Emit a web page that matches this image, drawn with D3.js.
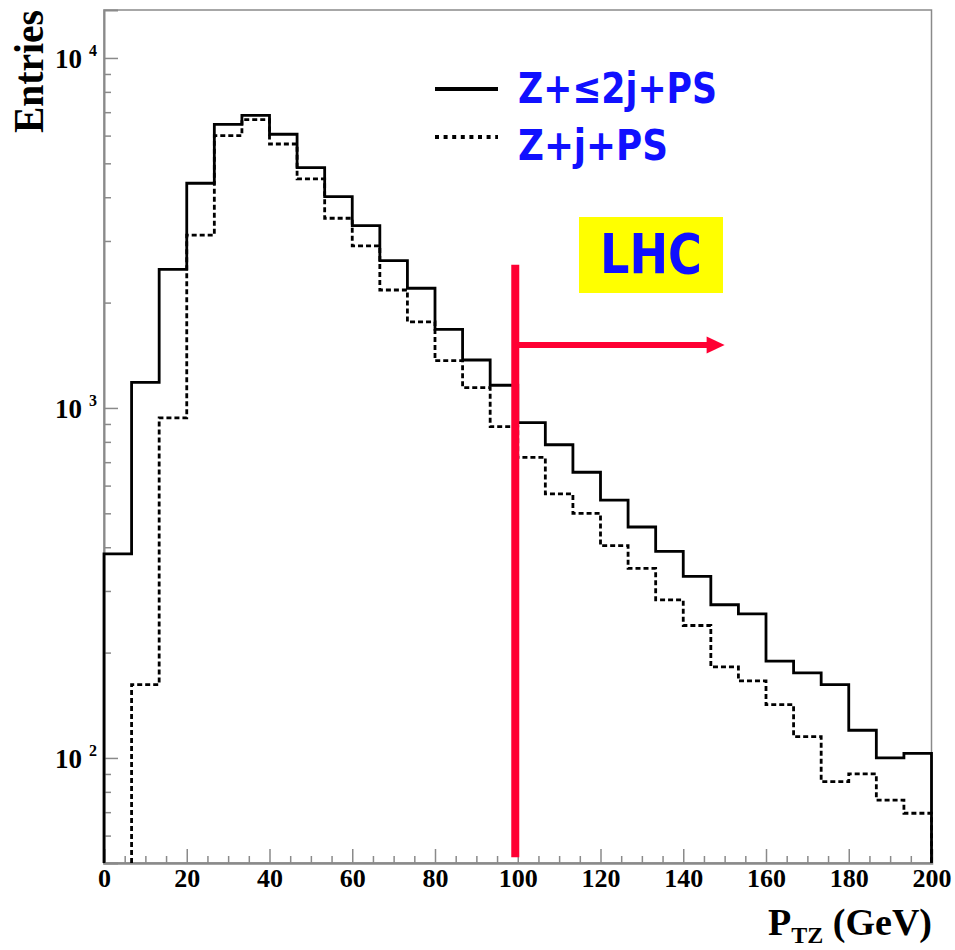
<!DOCTYPE html>
<html>
<head>
<meta charset="utf-8">
<script src="https://cdn.jsdelivr.net/npm/d3@7/dist/d3.min.js"></script>
<style>
  body { margin: 0; background: #fff; }
  .serif { font-family: "Liberation Serif", "DejaVu Serif", serif; font-weight: bold; fill: #000; }
  .comic { font-family: "Comic Sans MS", "DejaVu Sans", sans-serif; font-weight: bold; fill: #1010ff; }
</style>
</head>
<body>
<svg id="chart" width="955" height="950"></svg>
<script>
// histogram binning: 30 bins over 0-200 GeV
const ptMin = 0, ptMax = 200, nBins = 30;

// entries per bin
const zUpTo2j = [383, 1184, 2490, 4385, 6464, 6858, 6053, 4860, 4016, 3318,
                 2636, 2198, 1678, 1371, 1161, 908, 785, 655, 545, 457,
                 389, 330, 274, 258, 189, 175, 162, 120, 100, 103];
const zPlus1j = [0, 162, 937, 3118, 5996, 6664, 5677, 4512, 3484, 2905,
                 2173, 1762, 1365, 1143, 884, 722, 568, 500, 404, 348,
                 283, 239, 182, 166, 142, 115, 85.6, 90, 75.8, 69.5];

const seriesNames = ['Z+\u22642j+PS', 'Z+j+PS'];
const xMajorTicks = [0, 20, 40, 60, 80, 100, 120, 140, 160, 180, 200];
const yDecades = [100, 1000, 10000];
const yDecadeExp = ['2', '3', '4'];

// LHC cut annotation (GeV / entries)
const cutPt = 99.4, arrowPt = 150, arrowLevel = 1514, cutTop = 2564, cutBottom = 52;

const svg = d3.select('#chart');

const x = d3.scaleLinear().domain([ptMin, ptMax]).range([104, 931.5]);
const y = d3.scaleLog().domain([50.1, 13710]).range([863, 10]);
const binW = (ptMax - ptMin) / nBins;
const frameColor = '#8a8a8a';

// frame
svg.append('rect')
  .attr('x', x(ptMin)).attr('y', y.range()[1])
  .attr('width', x(ptMax) - x(ptMin)).attr('height', y.range()[0] - y.range()[1])
  .attr('fill', 'none').attr('stroke', frameColor).attr('stroke-width', 1.5);

// x ticks (pointing inward)
const minorX = d3.range(ptMin, ptMax + 1, 5).filter(v => v % 20 !== 0);
svg.append('g').attr('transform', `translate(0,${y.range()[0]})`)
  .call(d3.axisTop(x).tickValues(minorX).tickSize(7).tickFormat(''))
  .call(g => g.select('.domain').remove())
  .selectAll('line').attr('stroke', frameColor).attr('stroke-width', 1.5);
svg.append('g').attr('transform', `translate(0,${y.range()[0]})`)
  .call(d3.axisTop(x).tickValues(xMajorTicks).tickSize(14).tickFormat(''))
  .call(g => g.select('.domain').attr('stroke', frameColor).attr('stroke-width', 2.5))
  .selectAll('line').attr('stroke', frameColor).attr('stroke-width', 1.5);

// x labels
const xLab = svg.append('g').attr('transform', `translate(0,${y.range()[0]})`)
  .call(d3.axisBottom(x).tickValues(xMajorTicks).tickSize(0).tickPadding(6).tickFormat(d3.format('d')));
xLab.select('.domain').remove();
xLab.selectAll('text').attr('class', 'serif').attr('font-size', 26).attr('fill', '#000');

// y ticks (pointing inward)
const minorY = y.ticks().filter(v => !yDecades.includes(v));
svg.append('g').attr('transform', `translate(${x(ptMin)},0)`)
  .call(d3.axisRight(y).tickValues(minorY).tickSize(7).tickFormat(''))
  .call(g => g.select('.domain').remove())
  .selectAll('line').attr('stroke', frameColor).attr('stroke-width', 1.5);
svg.append('g').attr('transform', `translate(${x(ptMin)},0)`)
  .call(d3.axisRight(y).tickValues(yDecades).tickSize(14).tickFormat(''))
  .call(g => g.select('.domain').attr('stroke', frameColor).attr('stroke-width', 2))
  .selectAll('line').attr('stroke', frameColor).attr('stroke-width', 1.5);

// y labels 10^n
yDecades.forEach((v, i) => {
  svg.append('text').attr('class', 'serif')
    .attr('x', 82).attr('y', y(v) + 10).attr('text-anchor', 'end')
    .attr('font-size', 27).text('10');
  svg.append('text').attr('class', 'serif')
    .attr('x', 89).attr('y', y(v) - 2)
    .attr('font-size', 16).text(yDecadeExp[i]);
});

// axis titles
svg.append('text').attr('class', 'serif')
  .attr('transform', 'translate(43,10) rotate(-90)')
  .attr('text-anchor', 'end').attr('font-size', 42)
  .attr('textLength', 123).attr('lengthAdjust', 'spacingAndGlyphs')
  .text('Entries');

const xt = svg.append('text').attr('class', 'serif')
  .attr('x', 932).attr('y', 935).attr('text-anchor', 'end').attr('font-size', 38);
xt.append('tspan').text('P');
xt.append('tspan').attr('font-size', 24).attr('dy', 8).text('TZ');
xt.append('tspan').attr('dy', -8).text(' (GeV)');

// step histograms
const bottom = y.range()[0];
function stepPoints(vals) {
  const first = vals.findIndex(v => v > 0);
  const pts = [[x(ptMin + first * binW), bottom]];
  vals.forEach((v, i) => {
    if (i < first) return;
    const yy = v > 0 ? y(v) : bottom;
    pts.push([x(ptMin + i * binW), yy]);
    pts.push([x(ptMin + (i + 1) * binW), yy]);
  });
  pts.push([x(ptMax), bottom]);
  return pts;
}
const line = d3.line();

svg.append('path').attr('d', line(stepPoints(zPlus1j)))
  .attr('fill', 'none').attr('stroke', '#000').attr('stroke-width', 2.8)
  .attr('stroke-dasharray', '5,3');
svg.append('path').attr('d', line(stepPoints(zUpTo2j)))
  .attr('fill', 'none').attr('stroke', '#000').attr('stroke-width', 2.8);

// legend
svg.append('line').attr('x1', 435).attr('x2', 498).attr('y1', 89).attr('y2', 89)
  .attr('stroke', '#000').attr('stroke-width', 4);
svg.append('line').attr('x1', 435).attr('x2', 498).attr('y1', 137).attr('y2', 137)
  .attr('stroke', '#000').attr('stroke-width', 4).attr('stroke-dasharray', '4,4.6');
svg.append('text').attr('class', 'comic').attr('x', 518).attr('y', 103)
  .attr('font-size', 43).attr('textLength', 199).attr('lengthAdjust', 'spacingAndGlyphs')
  .text(seriesNames[0]);
svg.append('text').attr('class', 'comic').attr('x', 518).attr('y', 160)
  .attr('font-size', 43).attr('textLength', 150).attr('lengthAdjust', 'spacingAndGlyphs')
  .text(seriesNames[1]);

// LHC box
svg.append('rect').attr('x', 579).attr('y', 217).attr('width', 144).attr('height', 76)
  .attr('fill', '#ffff00');
svg.append('text').attr('class', 'comic').attr('x', 600).attr('y', 273)
  .attr('font-size', 56).attr('textLength', 102).attr('lengthAdjust', 'spacingAndGlyphs')
  .text('LHC');

// cut line and arrow
const red = '#ff0033';
svg.append('line').attr('x1', x(cutPt)).attr('x2', x(cutPt))
  .attr('y1', y(cutTop)).attr('y2', y(cutBottom))
  .attr('stroke', red).attr('stroke-width', 8);
svg.append('line').attr('x1', x(cutPt)).attr('x2', x(arrowPt) - 15)
  .attr('y1', y(arrowLevel)).attr('y2', y(arrowLevel))
  .attr('stroke', red).attr('stroke-width', 6);
const ax = x(arrowPt), ay = y(arrowLevel);
svg.append('path')
  .attr('d', `M${ax},${ay} L${ax - 18},${ay - 8.5} L${ax - 18},${ay + 8.5} Z`)
  .attr('fill', red);
</script>
</body>
</html>
